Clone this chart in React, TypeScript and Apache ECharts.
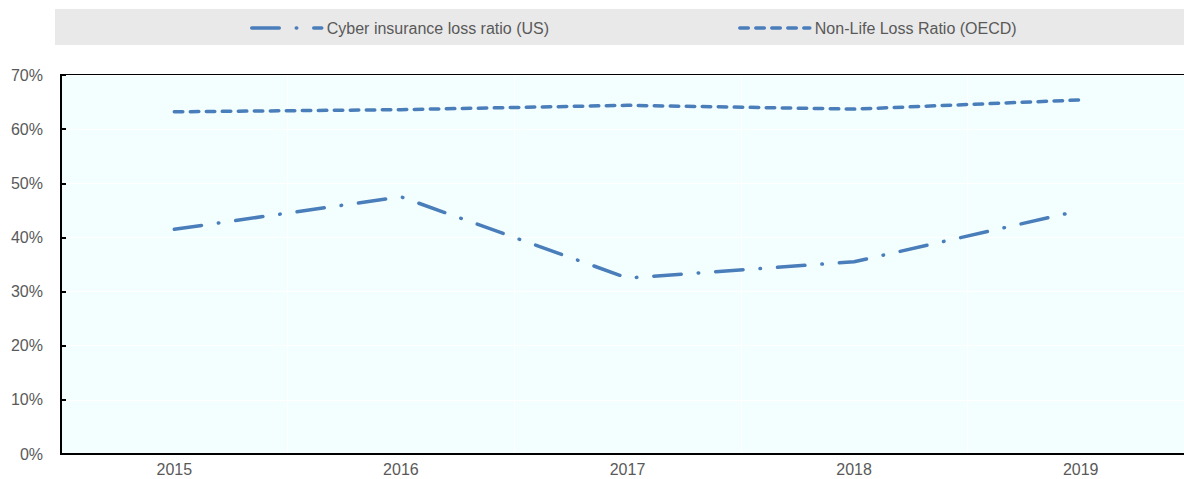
import React, { useEffect, useRef } from "react";
import * as echarts from "echarts";

const categories = ["2015", "2016", "2017", "2018", "2019"];
const cyberLossRatio = [41.5, 47.5, 32.5, 35.5, 45.0];
const nonLifeLossRatio = [63.2, 63.6, 64.4, 63.7, 65.4];
const seriesNames = ["Cyber insurance loss ratio (US)", "Non-Life Loss Ratio (OECD)"];

const BLUE = "#4a7ebb";
const FONT = "'Liberation Sans', Arial, sans-serif";

export default function App() {
  const ref = useRef<HTMLDivElement>(null);
  useEffect(() => {
    if (!ref.current) return;
    const chart = echarts.init(ref.current, undefined, { renderer: "svg" });
    chart.setOption({
      animation: false,
      textStyle: { fontFamily: FONT },
      graphic: [
        {
          type: "rect",
          left: 55,
          top: 9,
          shape: { width: 1140, height: 36 },
          style: { fill: "#e9e9e9" },
          z: -1,
        },
      ],
      legend: {
        left: 250,
        top: 20,
        padding: 0,
        itemWidth: 70,
        itemHeight: 14,
        itemGap: 189,
        itemStyle: { opacity: 0 },
        lineStyle: { width: 3.5, cap: "round" },
        textStyle: { color: "#595959", fontSize: 16, fontFamily: FONT },
        data: seriesNames,
      },
      grid: {
        left: 61,
        top: 75,
        right: 0,
        bottom: 25,
        show: true,
        backgroundColor: "#f3ffff",
        borderColor: "#000",
        borderWidth: 2,
      },
      xAxis: {
        type: "category",
        data: categories,
        boundaryGap: true,
        axisLine: { lineStyle: { color: "#000", width: 2 } },
        axisTick: { inside: true, length: 5, lineStyle: { color: "#000", width: 2 } },
        splitLine: { show: true, lineStyle: { color: "#ffffff", width: 1 } },
        axisLabel: { color: "#595959", fontSize: 16, margin: 7, fontFamily: FONT },
      },
      yAxis: {
        type: "value",
        min: 0,
        max: 70,
        interval: 10,
        axisLine: { show: true, lineStyle: { color: "#000", width: 2 } },
        axisTick: { show: true, inside: true, length: 5, lineStyle: { color: "#000", width: 2 } },
        splitLine: { show: true, lineStyle: { color: "#ffffff", width: 1 } },
        axisLabel: { color: "#595959", fontSize: 16, margin: 18, formatter: "{value}%", fontFamily: FONT },
      },
      series: [
        {
          name: seriesNames[0],
          type: "line",
          data: cyberLossRatio,
          symbol: "none",
          itemStyle: { color: BLUE },
          lineStyle: { color: BLUE, width: 3.5, type: [27.5, 17, 0.5, 17], cap: "round" },
        },
        {
          name: seriesNames[1],
          type: "line",
          data: nonLifeLossRatio,
          symbol: "none",
          itemStyle: { color: BLUE },
          lineStyle: { color: BLUE, width: 3.5, type: [8.5, 7.5], cap: "round" },
        },
      ],
    });
    return () => chart.dispose();
  }, []);
  return (
    <div style={{ position: "absolute", left: 0, top: 0, width: 1184, height: 479, overflow: "hidden" }}>
      <div ref={ref} style={{ width: 1194, height: 479 }} />
    </div>
  );
}
